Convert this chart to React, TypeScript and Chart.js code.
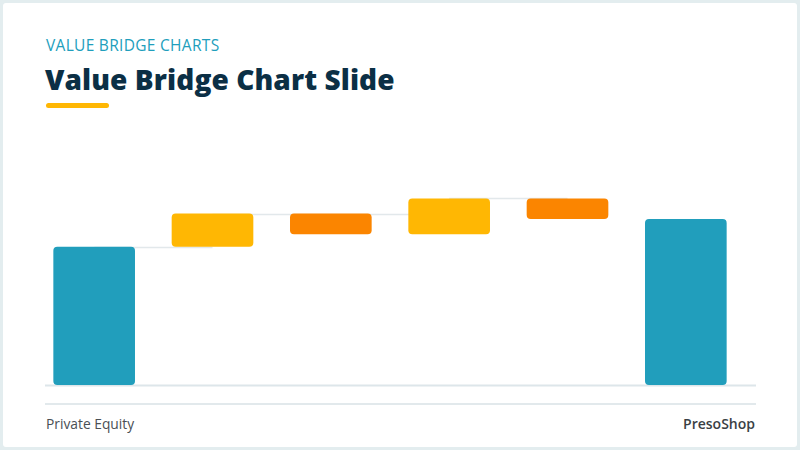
import React, { useEffect, useRef } from "react";
import { Chart, registerables } from "chart.js";

Chart.register(...registerables);

const categories = ["Entry Value", "Revenue Growth", "Margin Change", "Multiple Expansion", "Net Debt", "Exit Value"];
const startValue = 100;
const deltas = [24, -15, 26, -15];
const endValue = 120;
const barColors = ["#219ebc", "#ffb703", "#fb8500", "#ffb703", "#fb8500", "#219ebc"];

function buildRanges(): [number, number][] {
  const out: [number, number][] = [[0, startValue]];
  let run = startValue;
  for (const d of deltas) {
    const next = run + d;
    out.push([Math.min(run, next), Math.max(run, next)]);
    run = next;
  }
  out.push([0, endValue]);
  return out;
}

const bridgePlugin = {
  id: "bridge",
  beforeDatasetsDraw(chart: any) {
    const ctx = chart.ctx;
    const meta = chart.getDatasetMeta(0);
    const y = chart.scales.y;
    const ranges = chart.data.datasets[0].data as [number, number][];
    ctx.save();
    // baseline
    ctx.strokeStyle = "#dde6ea";
    ctx.lineWidth = 2;
    const by = y.getPixelForValue(0) + 0.5;
    ctx.beginPath();
    ctx.moveTo(chart.chartArea.left + 10, by);
    ctx.lineTo(chart.chartArea.right + 11, by);
    ctx.stroke();
    // connectors
    ctx.strokeStyle = "#e2e8eb";
    ctx.lineWidth = 1.5;
    for (let i = 0; i < ranges.length - 2; i++) {
      const top = Math.max(ranges[i][0], ranges[i][1]);
      const py = Math.round(y.getPixelForValue(top)) + 0.5;
      ctx.beginPath();
      ctx.moveTo(meta.data[i].x, py);
      ctx.lineTo(meta.data[i + 1].x, py);
      ctx.stroke();
    }
    ctx.restore();
  },
};

function BridgeChart() {
  const ref = useRef<HTMLCanvasElement>(null);
  useEffect(() => {
    if (!ref.current) return;
    const chart = new Chart(ref.current, {
      type: "bar",
      data: {
        labels: categories,
        datasets: [
          {
            data: buildRanges() as any,
            backgroundColor: barColors,
            borderRadius: 4,
            borderSkipped: false,
            barPercentage: 0.69,
            categoryPercentage: 1,
          },
        ],
      },
      options: {
        responsive: true,
        maintainAspectRatio: false,
        animation: false,
        layout: { padding: { left: 35, right: 55, top: 10, bottom: 15 } },
        plugins: { legend: { display: false }, tooltip: { enabled: false } },
        scales: {
          x: { display: false, offset: true },
          y: { display: false, min: 0, max: 170 },
        },
      },
      plugins: [bridgePlugin],
    });
    return () => chart.destroy();
  }, []);
  return <canvas ref={ref} />;
}

export default function App() {
  const font = "'Open Sans', 'Noto Sans', sans-serif";
  return (
    <div style={{ position: "fixed", inset: 0, background: "#e3edef", fontFamily: font }}>
      <div
        style={{
          position: "absolute",
          left: 3,
          top: 3,
          width: 794,
          height: 444,
          background: "#ffffff",
          borderRadius: 3,
        }}
      />
      <div
        style={{
          position: "absolute",
          left: 46,
          top: 35,
          fontSize: 15.5,
          lineHeight: "20px",
          color: "#219ebc",
          letterSpacing: 0.3,
        }}
      >
        VALUE BRIDGE CHARTS
      </div>
      <div
        style={{
          position: "absolute",
          left: 45,
          top: 60,
          fontSize: 28,
          lineHeight: "38px",
          fontWeight: 800,
          color: "#0b2f45",
          letterSpacing: 0.1,
        }}
      >
        Value Bridge Chart Slide
      </div>
      <div
        style={{
          position: "absolute",
          left: 46,
          top: 103,
          width: 63,
          height: 5,
          borderRadius: 3,
          background: "#ffb703",
        }}
      />
      <div style={{ position: "absolute", left: 0, top: 140, width: 800, height: 260 }}>
        <BridgeChart />
      </div>
      <div
        style={{
          position: "absolute",
          left: 45,
          top: 403,
          width: 711,
          height: 2,
          background: "#e2e9ec",
        }}
      />
      <div
        style={{
          position: "absolute",
          left: 46,
          top: 415,
          fontSize: 13.8,
          lineHeight: "18px",
          color: "#4a4f55",
        }}
      >
        Private Equity
      </div>
      <div
        style={{
          position: "absolute",
          right: 45,
          top: 415,
          fontSize: 14,
          lineHeight: "18px",
          fontWeight: 600,
          color: "#3a3f45",
        }}
      >
        PresoShop
      </div>
    </div>
  );
}
